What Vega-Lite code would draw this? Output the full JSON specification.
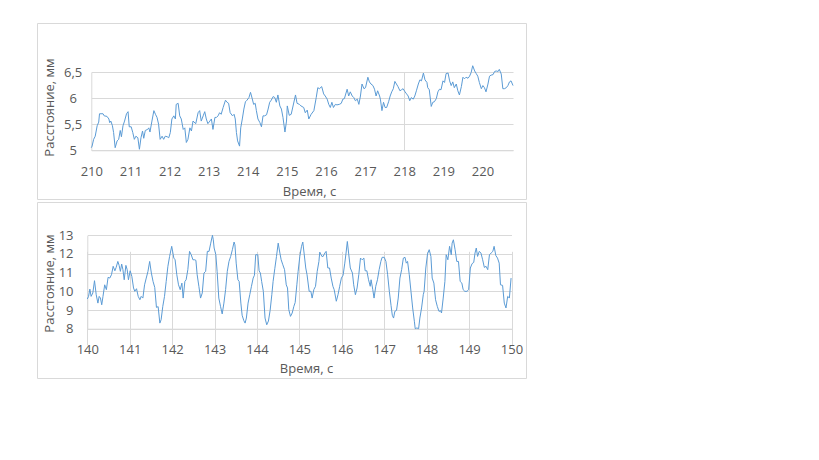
{
  "$schema": "https://vega.github.io/schema/vega-lite/v6.json",
  "padding": {"left": 36, "top": 22, "right": 0, "bottom": 0},
  "background": "white",
  "spacing": 1,
  "config": {
    "view": {"stroke": "#d9d9d9", "strokeWidth": 1},
    "font": "Open Sans",
    "axis": {
      "labelFont": "Open Sans", "labelFontSize": 13, "labelColor": "#595959",
      "titleFont": "Open Sans", "titleFontSize": 13, "titleColor": "#595959", "titleFontWeight": "normal",
      "domainColor": "#d9d9d9", "gridColor": "#d9d9d9", "ticks": false, "tickSize": 0
    }
  },
  "datasets": {
    "top": [
      {"t":210.00,"v":5.05},{"t":210.02,"v":5.08},{"t":210.06,"v":5.21},{"t":210.10,"v":5.27},{"t":210.15,"v":5.47},{"t":210.19,"v":5.54},{"t":210.21,"v":5.70},{"t":210.30,"v":5.70},{"t":210.33,"v":5.66},{"t":210.40,"v":5.65},{"t":210.45,"v":5.60},{"t":210.47,"v":5.53},{"t":210.50,"v":5.56},{"t":210.54,"v":5.47},{"t":210.57,"v":5.34},{"t":210.61,"v":5.05},{"t":210.66,"v":5.18},{"t":210.70,"v":5.21},{"t":210.74,"v":5.38},{"t":210.77,"v":5.26},{"t":210.81,"v":5.47},{"t":210.85,"v":5.56},{"t":210.90,"v":5.70},{"t":210.94,"v":5.74},{"t":210.97,"v":5.45},{"t":211.02,"v":5.45},{"t":211.06,"v":5.34},{"t":211.10,"v":5.21},{"t":211.14,"v":5.27},{"t":211.19,"v":5.24},{"t":211.23,"v":5.02},{"t":211.27,"v":5.24},{"t":211.31,"v":5.37},{"t":211.34,"v":5.23},{"t":211.38,"v":5.38},{"t":211.44,"v":5.40},{"t":211.47,"v":5.43},{"t":211.50,"v":5.35},{"t":211.55,"v":5.56},{"t":211.60,"v":5.76},{"t":211.64,"v":5.69},{"t":211.68,"v":5.63},{"t":211.72,"v":5.50},{"t":211.76,"v":5.21},{"t":211.81,"v":5.27},{"t":211.85,"v":5.21},{"t":211.89,"v":5.27},{"t":211.94,"v":5.26},{"t":211.98,"v":5.24},{"t":212.02,"v":5.34},{"t":212.06,"v":5.60},{"t":212.11,"v":5.66},{"t":212.15,"v":5.60},{"t":212.17,"v":5.88},{"t":212.22,"v":5.90},{"t":212.26,"v":5.66},{"t":212.30,"v":5.60},{"t":212.35,"v":5.40},{"t":212.39,"v":5.43},{"t":212.43,"v":5.15},{"t":212.47,"v":5.21},{"t":212.52,"v":5.43},{"t":212.56,"v":5.37},{"t":212.60,"v":5.56},{"t":212.67,"v":5.51},{"t":212.73,"v":5.72},{"t":212.77,"v":5.76},{"t":212.81,"v":5.56},{"t":212.86,"v":5.66},{"t":212.90,"v":5.74},{"t":212.94,"v":5.60},{"t":212.98,"v":5.51},{"t":213.03,"v":5.56},{"t":213.07,"v":5.60},{"t":213.11,"v":5.40},{"t":213.16,"v":5.63},{"t":213.20,"v":5.63},{"t":213.24,"v":5.66},{"t":213.28,"v":5.72},{"t":213.32,"v":5.69},{"t":213.37,"v":5.82},{"t":213.43,"v":5.96},{"t":213.47,"v":5.92},{"t":213.51,"v":5.90},{"t":213.55,"v":5.72},{"t":213.61,"v":5.66},{"t":213.65,"v":5.69},{"t":213.68,"v":5.60},{"t":213.71,"v":5.34},{"t":213.74,"v":5.18},{"t":213.79,"v":5.08},{"t":213.82,"v":5.43},{"t":213.86,"v":5.60},{"t":213.90,"v":5.79},{"t":213.94,"v":5.93},{"t":213.98,"v":5.96},{"t":214.03,"v":6.01},{"t":214.07,"v":6.11},{"t":214.11,"v":6.00},{"t":214.15,"v":5.88},{"t":214.19,"v":5.90},{"t":214.22,"v":5.76},{"t":214.26,"v":5.60},{"t":214.31,"v":5.53},{"t":214.35,"v":5.45},{"t":214.39,"v":5.66},{"t":214.43,"v":5.66},{"t":214.48,"v":5.68},{"t":214.52,"v":5.79},{"t":214.56,"v":5.92},{"t":214.60,"v":5.96},{"t":214.65,"v":6.03},{"t":214.69,"v":6.01},{"t":214.73,"v":5.92},{"t":214.77,"v":6.06},{"t":214.82,"v":5.85},{"t":214.86,"v":5.79},{"t":214.90,"v":5.63},{"t":214.95,"v":5.35},{"t":214.99,"v":5.56},{"t":215.01,"v":5.85},{"t":215.06,"v":5.67},{"t":215.11,"v":5.69},{"t":215.22,"v":6.06},{"t":215.26,"v":5.90},{"t":215.32,"v":5.88},{"t":215.36,"v":5.85},{"t":215.43,"v":5.82},{"t":215.47,"v":5.72},{"t":215.52,"v":5.77},{"t":215.56,"v":5.60},{"t":215.62,"v":5.69},{"t":215.69,"v":5.76},{"t":215.75,"v":6.01},{"t":215.79,"v":6.20},{"t":215.83,"v":6.18},{"t":215.89,"v":6.22},{"t":215.94,"v":6.08},{"t":215.98,"v":6.04},{"t":216.03,"v":5.98},{"t":216.07,"v":5.88},{"t":216.11,"v":5.82},{"t":216.15,"v":5.92},{"t":216.19,"v":5.82},{"t":216.24,"v":5.88},{"t":216.28,"v":5.87},{"t":216.34,"v":5.88},{"t":216.39,"v":5.90},{"t":216.43,"v":5.98},{"t":216.47,"v":5.99},{"t":216.54,"v":6.17},{"t":216.58,"v":6.04},{"t":216.62,"v":6.12},{"t":216.67,"v":6.04},{"t":216.71,"v":6.01},{"t":216.75,"v":5.95},{"t":216.80,"v":5.98},{"t":216.84,"v":5.88},{"t":216.88,"v":6.04},{"t":216.92,"v":6.27},{"t":216.97,"v":6.18},{"t":217.01,"v":6.20},{"t":217.07,"v":6.40},{"t":217.11,"v":6.31},{"t":217.15,"v":6.27},{"t":217.20,"v":6.24},{"t":217.24,"v":6.17},{"t":217.28,"v":6.04},{"t":217.32,"v":6.14},{"t":217.37,"v":6.04},{"t":217.39,"v":5.98},{"t":217.43,"v":5.76},{"t":217.47,"v":5.92},{"t":217.51,"v":5.82},{"t":217.55,"v":5.82},{"t":217.60,"v":5.93},{"t":217.64,"v":6.04},{"t":217.68,"v":6.12},{"t":217.72,"v":6.18},{"t":217.76,"v":6.32},{"t":217.80,"v":6.27},{"t":217.84,"v":6.22},{"t":217.89,"v":6.14},{"t":217.93,"v":6.16},{"t":217.97,"v":6.18},{"t":218.02,"v":6.12},{"t":218.06,"v":6.08},{"t":218.10,"v":6.04},{"t":218.14,"v":5.95},{"t":218.18,"v":6.01},{"t":218.23,"v":5.98},{"t":218.27,"v":6.04},{"t":218.31,"v":6.14},{"t":218.36,"v":6.27},{"t":218.40,"v":6.35},{"t":218.44,"v":6.33},{"t":218.49,"v":6.48},{"t":218.53,"v":6.35},{"t":218.58,"v":6.30},{"t":218.60,"v":6.20},{"t":218.64,"v":6.16},{"t":218.69,"v":5.84},{"t":218.73,"v":5.92},{"t":218.77,"v":5.93},{"t":218.82,"v":5.99},{"t":218.86,"v":6.12},{"t":218.90,"v":6.17},{"t":218.94,"v":6.16},{"t":218.99,"v":6.33},{"t":219.03,"v":6.30},{"t":219.07,"v":6.47},{"t":219.12,"v":6.48},{"t":219.16,"v":6.33},{"t":219.20,"v":6.24},{"t":219.24,"v":6.31},{"t":219.28,"v":6.20},{"t":219.33,"v":6.27},{"t":219.37,"v":6.14},{"t":219.41,"v":6.06},{"t":219.46,"v":6.22},{"t":219.50,"v":6.40},{"t":219.54,"v":6.37},{"t":219.58,"v":6.40},{"t":219.63,"v":6.38},{"t":219.67,"v":6.42},{"t":219.71,"v":6.49},{"t":219.75,"v":6.62},{"t":219.80,"v":6.52},{"t":219.84,"v":6.47},{"t":219.88,"v":6.42},{"t":219.92,"v":6.30},{"t":219.97,"v":6.18},{"t":220.01,"v":6.24},{"t":220.05,"v":6.20},{"t":220.09,"v":6.12},{"t":220.14,"v":6.27},{"t":220.18,"v":6.42},{"t":220.22,"v":6.44},{"t":220.27,"v":6.45},{"t":220.31,"v":6.51},{"t":220.35,"v":6.52},{"t":220.40,"v":6.51},{"t":220.43,"v":6.55},{"t":220.48,"v":6.46},{"t":220.52,"v":6.18},{"t":220.56,"v":6.18},{"t":220.61,"v":6.20},{"t":220.65,"v":6.24},{"t":220.69,"v":6.31},{"t":220.73,"v":6.33},{"t":220.78,"v":6.24}
    ],
    "bottom": [
      {"t":140.00,"v":9.59},{"t":140.03,"v":9.73},{"t":140.06,"v":10.12},{"t":140.09,"v":9.73},{"t":140.13,"v":9.91},{"t":140.17,"v":10.57},{"t":140.21,"v":9.82},{"t":140.25,"v":9.37},{"t":140.28,"v":9.73},{"t":140.31,"v":9.64},{"t":140.34,"v":9.28},{"t":140.37,"v":9.73},{"t":140.41,"v":10.35},{"t":140.45,"v":10.09},{"t":140.49,"v":10.75},{"t":140.53,"v":10.71},{"t":140.57,"v":10.89},{"t":140.61,"v":11.34},{"t":140.65,"v":11.10},{"t":140.68,"v":11.28},{"t":140.72,"v":11.60},{"t":140.75,"v":11.39},{"t":140.78,"v":11.07},{"t":140.81,"v":11.46},{"t":140.84,"v":11.16},{"t":140.87,"v":10.62},{"t":140.91,"v":11.39},{"t":140.94,"v":11.16},{"t":140.97,"v":10.62},{"t":141.01,"v":11.10},{"t":141.05,"v":10.80},{"t":141.09,"v":10.18},{"t":141.12,"v":10.00},{"t":141.16,"v":10.14},{"t":141.20,"v":9.73},{"t":141.24,"v":9.55},{"t":141.27,"v":9.73},{"t":141.31,"v":9.64},{"t":141.35,"v":10.35},{"t":141.39,"v":10.71},{"t":141.43,"v":11.07},{"t":141.47,"v":11.60},{"t":141.51,"v":10.98},{"t":141.55,"v":10.53},{"t":141.59,"v":10.21},{"t":141.63,"v":9.14},{"t":141.67,"v":9.18},{"t":141.71,"v":8.30},{"t":141.74,"v":8.48},{"t":141.78,"v":9.20},{"t":141.82,"v":9.73},{"t":141.86,"v":10.53},{"t":141.90,"v":11.34},{"t":141.94,"v":11.87},{"t":141.99,"v":12.41},{"t":142.04,"v":11.78},{"t":142.07,"v":11.69},{"t":142.11,"v":10.89},{"t":142.15,"v":10.35},{"t":142.19,"v":10.09},{"t":142.23,"v":10.44},{"t":142.26,"v":9.64},{"t":142.30,"v":10.53},{"t":142.33,"v":10.62},{"t":142.37,"v":11.16},{"t":142.41,"v":12.14},{"t":142.45,"v":11.96},{"t":142.49,"v":11.69},{"t":142.53,"v":11.69},{"t":142.56,"v":11.66},{"t":142.59,"v":10.89},{"t":142.63,"v":10.27},{"t":142.67,"v":9.64},{"t":142.71,"v":9.91},{"t":142.75,"v":10.98},{"t":142.79,"v":11.07},{"t":142.83,"v":12.14},{"t":142.87,"v":12.14},{"t":142.91,"v":12.58},{"t":142.95,"v":13.0},{"t":142.97,"v":12.76},{"t":142.99,"v":12.32},{"t":143.03,"v":11.96},{"t":143.06,"v":11.07},{"t":143.10,"v":9.64},{"t":143.14,"v":9.20},{"t":143.18,"v":8.79},{"t":143.22,"v":9.37},{"t":143.26,"v":10.09},{"t":143.30,"v":11.07},{"t":143.34,"v":11.60},{"t":143.38,"v":11.87},{"t":143.42,"v":12.23},{"t":143.46,"v":12.64},{"t":143.48,"v":12.49},{"t":143.51,"v":11.51},{"t":143.55,"v":10.62},{"t":143.58,"v":10.53},{"t":143.62,"v":9.37},{"t":143.65,"v":8.72},{"t":143.69,"v":8.43},{"t":143.72,"v":8.30},{"t":143.75,"v":8.57},{"t":143.79,"v":9.37},{"t":143.83,"v":9.82},{"t":143.87,"v":10.27},{"t":143.91,"v":10.71},{"t":143.94,"v":10.86},{"t":143.97,"v":11.96},{"t":144.02,"v":11.96},{"t":144.05,"v":11.10},{"t":144.08,"v":10.98},{"t":144.11,"v":10.53},{"t":144.15,"v":10.00},{"t":144.19,"v":8.57},{"t":144.23,"v":8.21},{"t":144.27,"v":8.41},{"t":144.31,"v":8.98},{"t":144.35,"v":9.82},{"t":144.38,"v":10.53},{"t":144.42,"v":11.21},{"t":144.46,"v":11.87},{"t":144.50,"v":12.58},{"t":144.54,"v":12.05},{"t":144.57,"v":11.69},{"t":144.61,"v":11.42},{"t":144.65,"v":11.16},{"t":144.69,"v":10.35},{"t":144.72,"v":10.18},{"t":144.75,"v":9.02},{"t":144.79,"v":8.66},{"t":144.83,"v":8.84},{"t":144.87,"v":9.20},{"t":144.90,"v":9.40},{"t":144.94,"v":10.35},{"t":144.97,"v":11.07},{"t":145.01,"v":11.87},{"t":145.05,"v":12.41},{"t":145.08,"v":12.64},{"t":145.11,"v":12.05},{"t":145.15,"v":11.25},{"t":145.18,"v":10.89},{"t":145.23,"v":10.00},{"t":145.27,"v":10.00},{"t":145.30,"v":9.64},{"t":145.34,"v":10.09},{"t":145.38,"v":10.27},{"t":145.42,"v":11.07},{"t":145.46,"v":11.60},{"t":145.48,"v":12.10},{"t":145.53,"v":11.87},{"t":145.56,"v":11.87},{"t":145.60,"v":12.05},{"t":145.63,"v":12.14},{"t":145.67,"v":11.25},{"t":145.71,"v":11.25},{"t":145.75,"v":10.71},{"t":145.79,"v":10.27},{"t":145.82,"v":10.09},{"t":145.87,"v":9.47},{"t":145.91,"v":9.82},{"t":145.95,"v":10.27},{"t":145.99,"v":10.71},{"t":146.03,"v":10.86},{"t":146.07,"v":11.51},{"t":146.10,"v":12.05},{"t":146.13,"v":12.67},{"t":146.16,"v":12.05},{"t":146.20,"v":11.25},{"t":146.25,"v":10.98},{"t":146.28,"v":10.35},{"t":146.32,"v":9.82},{"t":146.36,"v":10.18},{"t":146.40,"v":10.89},{"t":146.44,"v":11.78},{"t":146.48,"v":11.69},{"t":146.52,"v":11.78},{"t":146.55,"v":11.10},{"t":146.59,"v":11.10},{"t":146.63,"v":10.62},{"t":146.67,"v":10.27},{"t":146.69,"v":10.62},{"t":146.73,"v":10.09},{"t":146.76,"v":9.64},{"t":146.80,"v":10.27},{"t":146.84,"v":10.62},{"t":146.88,"v":11.16},{"t":146.92,"v":11.60},{"t":146.95,"v":11.82},{"t":147.00,"v":11.82},{"t":147.04,"v":11.60},{"t":147.08,"v":10.89},{"t":147.12,"v":10.00},{"t":147.16,"v":9.25},{"t":147.19,"v":8.72},{"t":147.22,"v":8.57},{"t":147.25,"v":8.93},{"t":147.29,"v":8.98},{"t":147.33,"v":9.64},{"t":147.37,"v":10.71},{"t":147.41,"v":11.16},{"t":147.45,"v":11.78},{"t":147.49,"v":11.82},{"t":147.52,"v":11.51},{"t":147.55,"v":11.60},{"t":147.59,"v":10.89},{"t":147.63,"v":10.00},{"t":147.67,"v":9.11},{"t":147.71,"v":8.40},{"t":147.73,"v":8.0},{"t":147.77,"v":8.04},{"t":147.81,"v":8.0},{"t":147.84,"v":8.57},{"t":147.88,"v":9.11},{"t":147.92,"v":9.82},{"t":147.94,"v":10.00},{"t":147.98,"v":11.25},{"t":148.02,"v":12.00},{"t":148.06,"v":12.23},{"t":148.10,"v":11.87},{"t":148.13,"v":10.71},{"t":148.17,"v":10.44},{"t":148.21,"v":9.55},{"t":148.25,"v":9.20},{"t":148.29,"v":8.93},{"t":148.33,"v":8.96},{"t":148.35,"v":8.84},{"t":148.39,"v":9.64},{"t":148.43,"v":10.53},{"t":148.46,"v":11.96},{"t":148.50,"v":11.69},{"t":148.54,"v":12.41},{"t":148.58,"v":11.96},{"t":148.60,"v":12.58},{"t":148.63,"v":12.76},{"t":148.67,"v":12.23},{"t":148.71,"v":11.60},{"t":148.75,"v":11.60},{"t":148.79,"v":10.53},{"t":148.83,"v":10.44},{"t":148.86,"v":10.09},{"t":148.90,"v":10.00},{"t":148.95,"v":10.00},{"t":148.99,"v":10.09},{"t":149.03,"v":11.25},{"t":149.07,"v":11.48},{"t":149.11,"v":11.55},{"t":149.14,"v":12.05},{"t":149.17,"v":12.32},{"t":149.20,"v":11.87},{"t":149.24,"v":12.14},{"t":149.28,"v":12.05},{"t":149.32,"v":11.69},{"t":149.36,"v":11.28},{"t":149.40,"v":11.34},{"t":149.44,"v":11.16},{"t":149.48,"v":11.96},{"t":149.52,"v":12.05},{"t":149.56,"v":12.14},{"t":149.59,"v":12.41},{"t":149.63,"v":11.92},{"t":149.67,"v":11.78},{"t":149.71,"v":11.51},{"t":149.74,"v":10.35},{"t":149.79,"v":10.32},{"t":149.83,"v":9.37},{"t":149.87,"v":9.11},{"t":149.91,"v":9.73},{"t":149.95,"v":9.64},{"t":149.99,"v":10.71}
    ]
  },
  "vconcat": [
    {
      "width": 489,
      "height": 176,
      "data": {"name": "top"},
      "mark": {"type": "line", "color": "#5b9bd5", "strokeWidth": 1},
      "encoding": {
        "x": {
          "field": "t", "type": "quantitative",
          "scale": {"domain": [210, 220.78], "range": [54.3, 476], "nice": false, "zero": false},
          "axis": {
            "values": [210, 211, 212, 213, 214, 215, 216, 217, 218, 219, 220],
            "offset": -48.7, "labelPadding": 15, "labelFlush": false,
            "grid": true,
            "gridOpacity": {"condition": {"test": "datum.value === 218", "value": 1}, "value": 0},
            "title": "Время, с", "titleX": 272, "titleY": 41, "titleBaseline": "middle", "titleAlign": "center"
          }
        },
        "y": {
          "field": "v", "type": "quantitative",
          "scale": {"domain": [5, 6.5], "range": [127.3, 49], "nice": false, "zero": false},
          "axis": {
            "values": [5, 5.5, 6, 6.5],
            "offset": -54.3, "labelAlign": "center", "labelPadding": 18.7,
            "labelExpr": "replace(toString(datum.value), '.', ',')",
            "grid": true,
            "title": "Расстояние, мм", "titleX": -42, "titleY": 84, "titleBaseline": "middle", "titleAlign": "center", "titleAngle": 270
          }
        }
      }
    },
    {
      "width": 489,
      "height": 176,
      "data": {"name": "bottom"},
      "mark": {"type": "line", "color": "#5b9bd5", "strokeWidth": 1},
      "encoding": {
        "x": {
          "field": "t", "type": "quantitative",
          "scale": {"domain": [140, 150], "range": [50.3, 474.5], "nice": false, "zero": false},
          "axis": {
            "values": [140, 141, 142, 143, 144, 145, 146, 147, 148, 149, 150],
            "offset": -49.3, "labelPadding": 15, "labelFlush": false,
            "grid": true,
            "title": "Время, с", "titleX": 269, "titleY": 40, "titleBaseline": "middle", "titleAlign": "center"
          }
        },
        "y": {
          "field": "v", "type": "quantitative",
          "scale": {"domain": [8, 13], "range": [126.7, 33.3], "nice": false, "zero": false},
          "axis": {
            "values": [8, 9, 10, 11, 12, 13],
            "offset": -50.3, "labelPadding": 14.3,
            "grid": true,
            "title": "Расстояние, мм", "titleX": -38.3, "titleY": 81, "titleBaseline": "middle", "titleAlign": "center", "titleAngle": 270
          }
        }
      }
    }
  ]
}
